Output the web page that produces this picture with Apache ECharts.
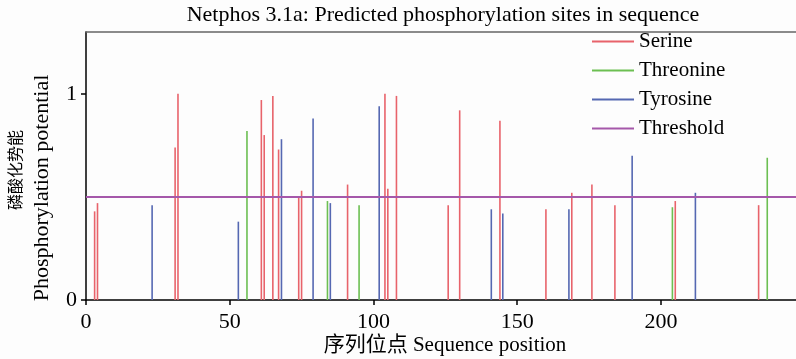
<!DOCTYPE html>
<html>
<head>
<meta charset="utf-8">
<script src="https://cdn.jsdelivr.net/npm/echarts@6/dist/echarts.min.js"></script>
<style>html,body{margin:0;padding:0;background:#fdfdfd;}#c{width:796px;height:359px;}</style>
</head>
<body>
<div id="c"></div>
<script>
const serinePos = [3, 4, 31, 32, 61, 62, 65, 67, 74, 75, 91, 104, 105, 108, 126, 130, 144, 160, 169, 176, 184, 205, 234];
const serineVal = [0.43, 0.47, 0.74, 1.0, 0.97, 0.80, 0.99, 0.73, 0.50, 0.53, 0.56, 1.0, 0.54, 0.99, 0.46, 0.92, 0.87, 0.44, 0.52, 0.56, 0.46, 0.48, 0.46];
const threoninePos = [56, 84, 95, 204, 237];
const threonineVal = [0.82, 0.48, 0.46, 0.45, 0.69];
const tyrosinePos = [23, 53, 68, 79, 85, 102, 141, 145, 168, 190, 212];
const tyrosineVal = [0.46, 0.38, 0.78, 0.88, 0.47, 0.94, 0.44, 0.42, 0.44, 0.70, 0.52];
const thresholdValue = 0.5;
const xMax = 247;
const xTicks = [0, 50, 100, 150, 200];
const yTicks = [0, 1];

const FONT = '"Liberation Serif", "DejaVu Serif", "Noto Sans CJK SC", serif';
const colors = { serine: '#e8636b', threonine: '#6cbf52', tyrosine: '#5568b2', threshold: '#a558aa' };

function stemSeries(name, pos, val, color) {
  return {
    name: name, type: 'custom',
    itemStyle: { color: color },
    encode: { x: 0, y: 1 },
    data: pos.map((p, i) => [p, val[i]]),
    renderItem: function (params, api) {
      const x = api.value(0), y = api.value(1);
      const p0 = api.coord([x, 0]), p1 = api.coord([x, y]);
      return { type: 'line', shape: { x1: p0[0], y1: p0[1], x2: p1[0], y2: p1[1] },
               style: { stroke: color, lineWidth: 1.6 } };
    }
  };
}

const chart = echarts.init(document.getElementById('c'));
chart.setOption({
  backgroundColor: '#fdfdfd',
  animation: false,
  textStyle: { fontFamily: FONT },
  grid: { left: 86, right: 0, top: 32, bottom: 59 },
  legend: {
    orient: 'vertical', left: 592, top: 31, padding: 0,
    icon: 'rect', itemWidth: 42, itemHeight: 2, itemGap: 8,
    textStyle: { fontFamily: FONT, fontSize: 21, color: '#000' },
    data: ['Serine', 'Threonine', 'Tyrosine', 'Threshold']
  },
  xAxis: [{
    type: 'value', min: 0, max: xMax, interval: 50,
    splitLine: { show: false },
    axisLine: { lineStyle: { color: '#000', width: 1.5 } },
    axisTick: { customValues: xTicks, length: 5, lineStyle: { color: '#000', width: 1.5 } },
    axisLabel: { customValues: xTicks, fontFamily: FONT, fontSize: 22, color: '#000', margin: 11 }
  }, {
    type: 'value', min: 0, max: xMax, position: 'top',
    splitLine: { show: false }, axisTick: { show: false }, axisLabel: { show: false },
    axisLine: { show: true, lineStyle: { color: '#666', width: 1.5 } }
  }],
  yAxis: {
    type: 'value', min: 0, max: 1.3, interval: 1,
    splitLine: { show: false },
    axisLine: { show: true, lineStyle: { color: '#000', width: 1.5 } },
    axisTick: { show: true, customValues: yTicks, length: 5, lineStyle: { color: '#000', width: 1.5 } },
    axisLabel: { customValues: yTicks, fontFamily: FONT, fontSize: 22, color: '#000', margin: 9 }
  },
  graphic: [
    { type: 'text', x: 443, y: 15, style: { text: 'Netphos 3.1a: Predicted phosphorylation sites in sequence', font: '22px ' + FONT, fill: '#000', textAlign: 'center', textVerticalAlign: 'middle' } },
    { type: 'text', x: 445, y: 345, style: { text: '序列位点 Sequence position', font: '21px ' + FONT, fill: '#000', textAlign: 'center', textVerticalAlign: 'middle' } },
    { type: 'text', x: 17, y: 170, rotation: Math.PI / 2, style: { text: '磷酸化势能', font: '16px ' + FONT, fill: '#000', textAlign: 'center', textVerticalAlign: 'middle' } },
    { type: 'text', x: 42, y: 188, rotation: Math.PI / 2, style: { text: 'Phosphorylation potential', font: '22px ' + FONT, fill: '#000', textAlign: 'center', textVerticalAlign: 'middle' } }
  ],
  series: [
    stemSeries('Serine', serinePos, serineVal, colors.serine),
    stemSeries('Threonine', threoninePos, threonineVal, colors.threonine),
    stemSeries('Tyrosine', tyrosinePos, tyrosineVal, colors.tyrosine),
    {
      name: 'Threshold', type: 'line', symbol: 'none',
      itemStyle: { color: colors.threshold },
      lineStyle: { color: colors.threshold, width: 2 },
      data: [[0, thresholdValue], [xMax, thresholdValue]]
    }
  ]
});
</script>
</body>
</html>
